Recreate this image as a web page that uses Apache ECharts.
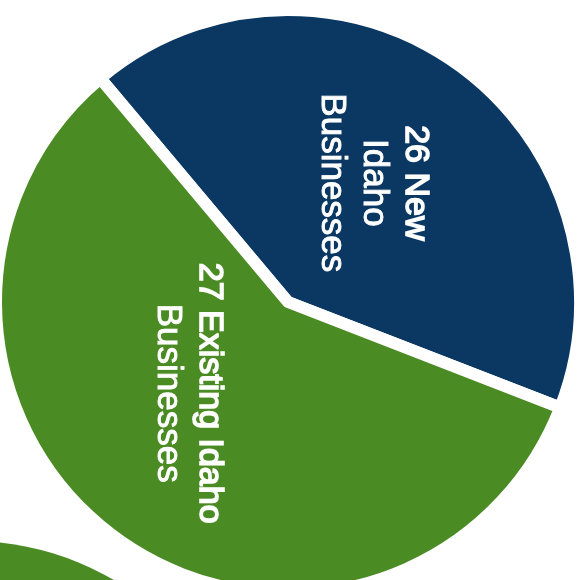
<!DOCTYPE html>
<html><head><meta charset="utf-8">
<script src="https://cdn.jsdelivr.net/npm/echarts@6/dist/echarts.min.js"></script>
<style>html,body{margin:0;padding:0;background:#fff}#c{width:581px;height:580px}</style>
</head><body><div id="c"></div>
<script>
// data
const categories = ['New Idaho Businesses', 'Existing Idaho Businesses'];
const counts = [26, 27];
const sliceShare = [42, 58];            // share of the circle
const labelHead = ['New', 'Existing Idaho'];
const labelRest = [['Idaho', 'Businesses'], ['Businesses']];
const colors = ['#0a3862', '#4b8b24'];
const neighborShare = [1];              // partially visible neighbouring circle

const chart = echarts.init(document.getElementById('c'), null, {renderer: 'canvas'});
const font = 'Liberation Sans, Arial, sans-serif';

chart.setOption({
  backgroundColor: '#ffffff',
  animation: false,
  series: [
    {
      type: 'pie',
      center: [288, 302],
      radius: 292,
      startAngle: 130,
      clockwise: true,
      silent: true,
      avoidLabelOverlap: false,
      itemStyle: {borderColor: '#ffffff', borderWidth: 12},
      label: {
        show: true,
        position: 'inside',
        rotate: -90,
        color: '#ffffff',
        fontFamily: font,
        formatter: function (p) {
          const i = p.dataIndex;
          return ['{h|' + counts[i] + ' ' + labelHead[i] + '}']
            .concat(labelRest[i].map(function (t) { return '{r|' + t + '}'; }))
            .join('\n');
        },
        rich: {
          h: {fontSize: 34, lineHeight: 42, color: '#fff', fontFamily: font,
              textBorderColor: '#fff', textBorderWidth: 1.6},
          r: {fontSize: 35, lineHeight: 42, color: '#fff', fontFamily: font,
              textBorderColor: '#fff', textBorderWidth: 0.9}
        }
      },
      labelLine: {show: false},
      labelLayout: function (p) {
        // offsets are in the rotated label frame
        return p.dataIndex === 1 ? {dx: -30, dy: 13} : {dx: 2, dy: 1};
      },
      data: categories.map(function (name, i) {
        return {name: name, value: sliceShare[i], itemStyle: {color: colors[i]}};
      })
    },
    {
      type: 'pie',
      center: [-30, 826],
      radius: 285,
      silent: true,
      label: {show: false},
      labelLine: {show: false},
      data: neighborShare.map(function (v) {
        return {name: 'neighbor', value: v, itemStyle: {color: colors[1]}};
      })
    }
  ]
});
</script>
</body></html>
